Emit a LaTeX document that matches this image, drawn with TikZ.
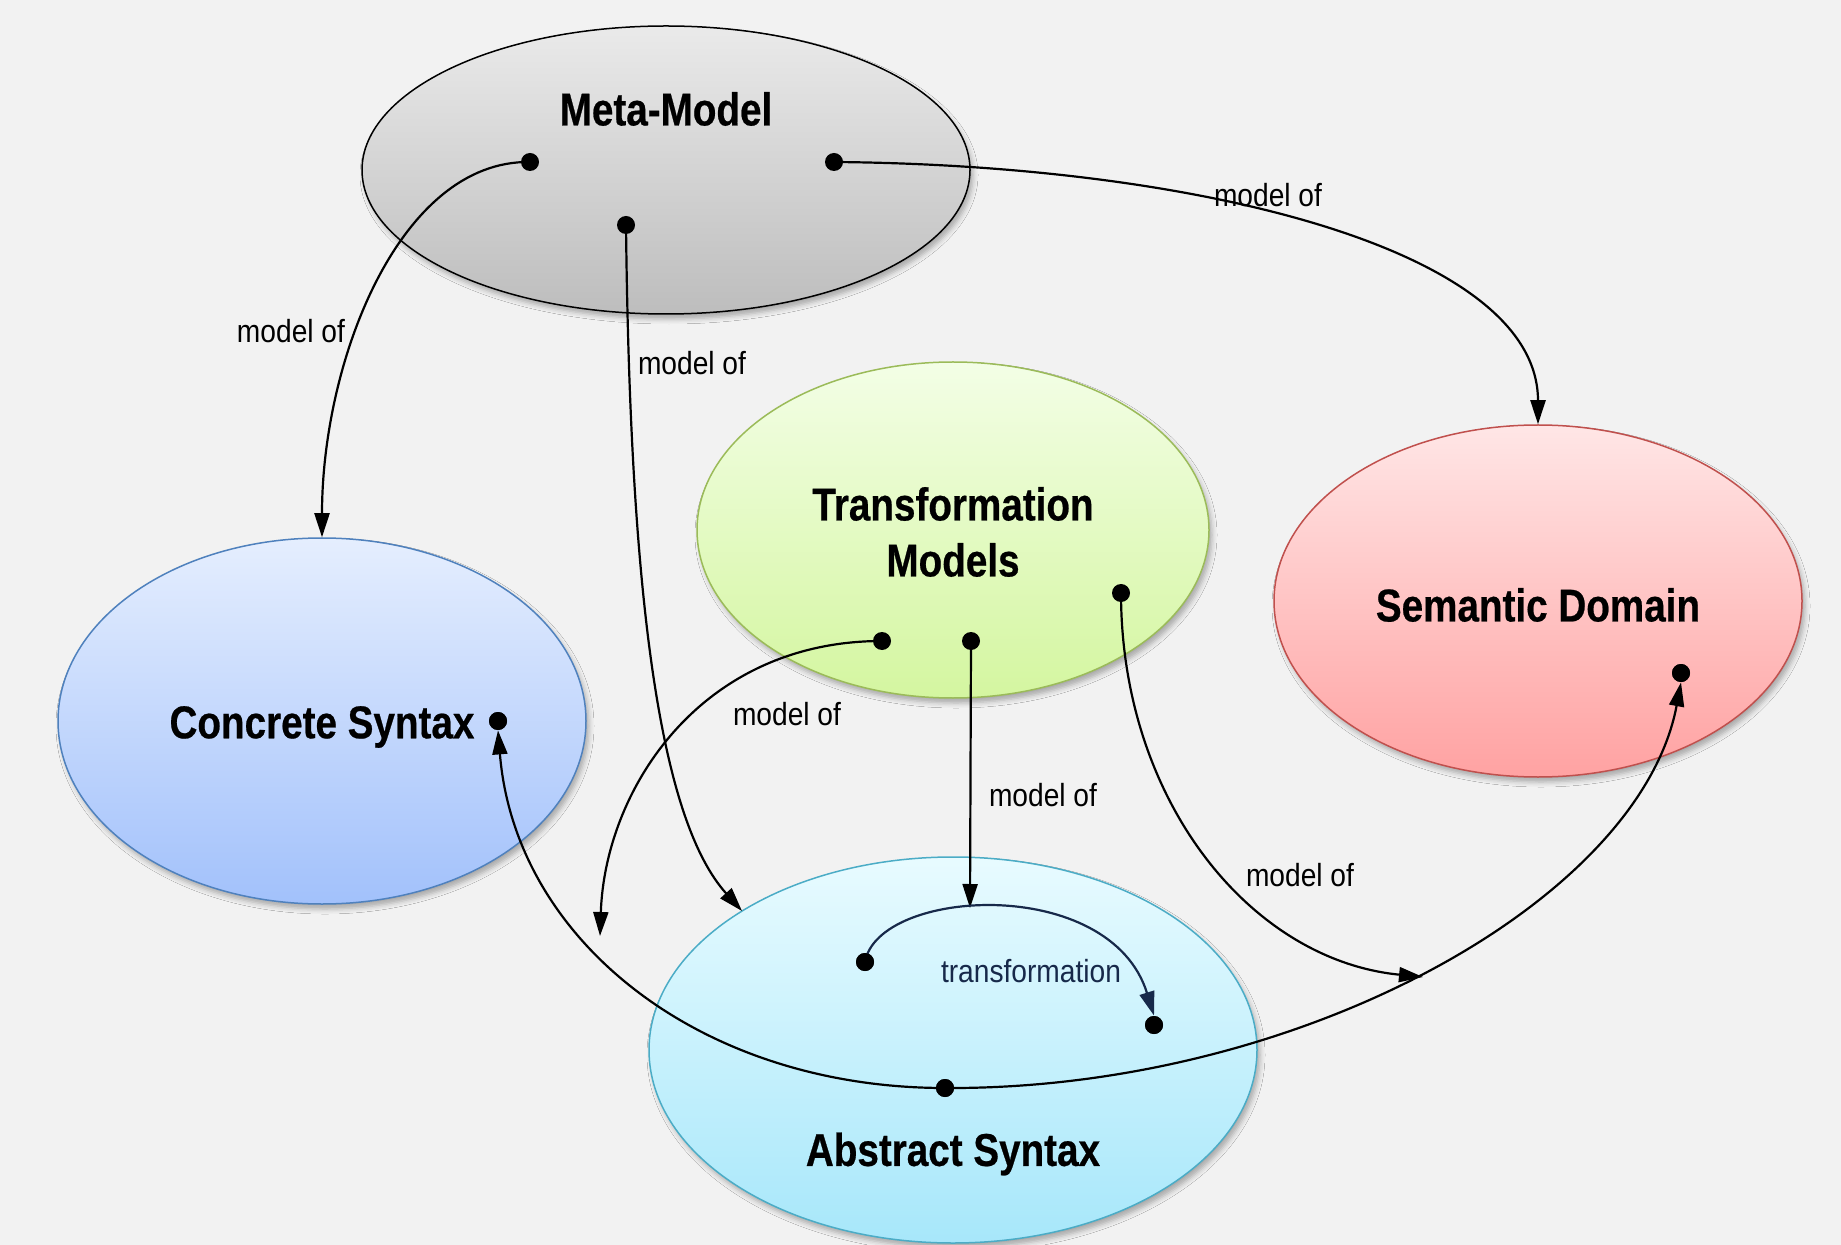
\documentclass[tikz,border=0pt]{standalone}
\usepackage{fontspec}
\setmainfont{Liberation Sans}
\newfontfamily\titlefont{Liberation Sans}[FakeStretch=0.84, BoldFeatures={FakeBold=0.5}]
\newfontfamily\labelfont{Liberation Sans}[FakeStretch=0.88]
\usetikzlibrary{arrows.meta,shapes.geometric,shadows.blur}

\definecolor{bgc}{HTML}{F2F2F2}
\definecolor{navy}{HTML}{17294A}
\definecolor{mmTop}{HTML}{EAEAEA}\definecolor{mmBot}{HTML}{BDBDBD}
\definecolor{tmTop}{HTML}{F3FEE6}\definecolor{tmBot}{HTML}{D4F6A0}\definecolor{tmLine}{HTML}{9BBB59}
\definecolor{sdTop}{HTML}{FFE6E6}\definecolor{sdBot}{HTML}{FFA2A2}\definecolor{sdLine}{HTML}{C0504D}
\definecolor{csTop}{HTML}{E5EEFE}\definecolor{csBot}{HTML}{A2C1FB}\definecolor{csLine}{HTML}{4F81BD}
\definecolor{asTop}{HTML}{E8FBFF}\definecolor{asBot}{HTML}{A7E7FA}\definecolor{asLine}{HTML}{4BACC6}

\tikzset{
  bubble/.style={ellipse, draw, line width=0.75pt, inner sep=0pt,
    blur shadow={shadow xshift=1.5pt, shadow yshift=-2.5pt,
                 shadow blur radius=2.5pt, shadow opacity=30}},
  title/.style={font=\titlefont\bfseries\fontsize{23}{28}\selectfont,
    align=center, inner sep=0pt},
  lbl/.style={font=\labelfont\fontsize{16}{19}\selectfont, inner sep=0pt},
  pin/.style={circle, fill=black, inner sep=0pt, minimum size=9pt},
  wire/.style={line width=1.1pt},
  link/.style={wire, -{Triangle[length=12pt,width=7.5pt]}},
}

\begin{document}
\begin{tikzpicture}[x=0.5pt, y=-0.5pt]
  % canvas
  \fill[bgc] (0,0) rectangle (1841,1245);
  \useasboundingbox (0,0) rectangle (1841,1245);

  % the five concepts
  \node[bubble, draw=black, top color=mmTop, bottom color=mmBot,
        minimum width=304pt, minimum height=144pt] (mm) at (666,170) {};
  \node[bubble, draw=tmLine, top color=tmTop, bottom color=tmBot,
        minimum width=256pt, minimum height=168pt] (tm) at (953,530) {};
  \node[bubble, draw=sdLine, top color=sdTop, bottom color=sdBot,
        minimum width=264pt, minimum height=176pt] (sd) at (1538,601) {};
  \node[bubble, draw=csLine, top color=csTop, bottom color=csBot,
        minimum width=264pt, minimum height=183pt] (cs) at (322,721) {};
  \node[bubble, draw=asLine, top color=asTop, bottom color=asBot,
        minimum width=304pt, minimum height=193pt] (as) at (953,1050) {};

  % titles
  \node[title] (mmT) at (666,109) {Meta-Model};
  \node[title] (tmT) at (953,532) {Transformation\\Models};
  \node[title] (sdT) at (1538,605) {Semantic Domain};
  \node[title] (csT) at (322,727) {Concrete Syntax};
  \node[title] (asT) at (953,1154) {Abstract Syntax};

  % connection points
  \coordinate (mmL) at (530,162);
  \coordinate (mmR) at (834,162);
  \coordinate (mmB) at (626,225);
  \coordinate (tmA) at (882,641);
  \coordinate (tmB) at (971,641);
  \coordinate (tmC) at (1121,593);
  \node[pin] (csD) at (498,721) {};
  \node[pin] (sdD) at (1681,673) {};
  \node[pin] (asD) at (945,1088) {};
  \node[pin] (trS) at (865,962) {};
  \node[pin] (trE) at (1154,1025) {};

  % free arrow ends
  \coordinate (e2) at (742,911);
  \coordinate (e4) at (600,936);
  \coordinate (e5) at (970,908);
  \coordinate (e6) at (1423,977);

  % "model of" relations
  \draw[link] (mmL) .. controls (400,160) and (322,360) .. (cs.north);
  \draw[link] (mmB) .. controls (630,600) and (660,820) .. (e2);
  \draw[link] (mmR) .. controls (1200,165) and (1538,250) .. (sd.north);
  \draw[link] (tmA) .. controls (700,641) and (605,790) .. (e4);
  \draw[link] (tmB) -- (e5);
  \draw[link] (tmC) .. controls (1121,800) and (1250,960) .. (e6);

  % abstract syntax towards concrete syntax and semantic domain
  \draw[link] (asD.center) .. controls (700,1088) and (515,940) .. (csD.south);
  \draw[link] (asD.center) .. controls (1300,1090) and (1640,900) .. (sdD.south);

  % transformation inside the abstract syntax
  \draw[link, color=navy] (trS.center) .. controls (878,888) and (1110,874) .. (trE.north);

  % dots drawn on top of the wires
  \foreach \p in {mmL,mmR,mmB,tmA,tmB,tmC}
    \fill (\p) circle (4.5pt);
  \node[pin] at (csD) {};
  \node[pin] at (sdD) {};
  \node[pin] at (asD) {};
  \node[pin] at (trS) {};
  \node[pin] at (trE) {};

  % labels
  \node[lbl] (l1) at (291,331) {model of};
  \node[lbl] (l2) at (692,363) {model of};
  \node[lbl] (l3) at (1268,195) {model of};
  \node[lbl] (l4) at (787,714) {model of};
  \node[lbl] (l5) at (1043,795) {model of};
  \node[lbl] (l6) at (1300,875) {model of};
  \node[lbl, text=navy] (l7) at (1031,971) {transformation};
\end{tikzpicture}
\end{document}
